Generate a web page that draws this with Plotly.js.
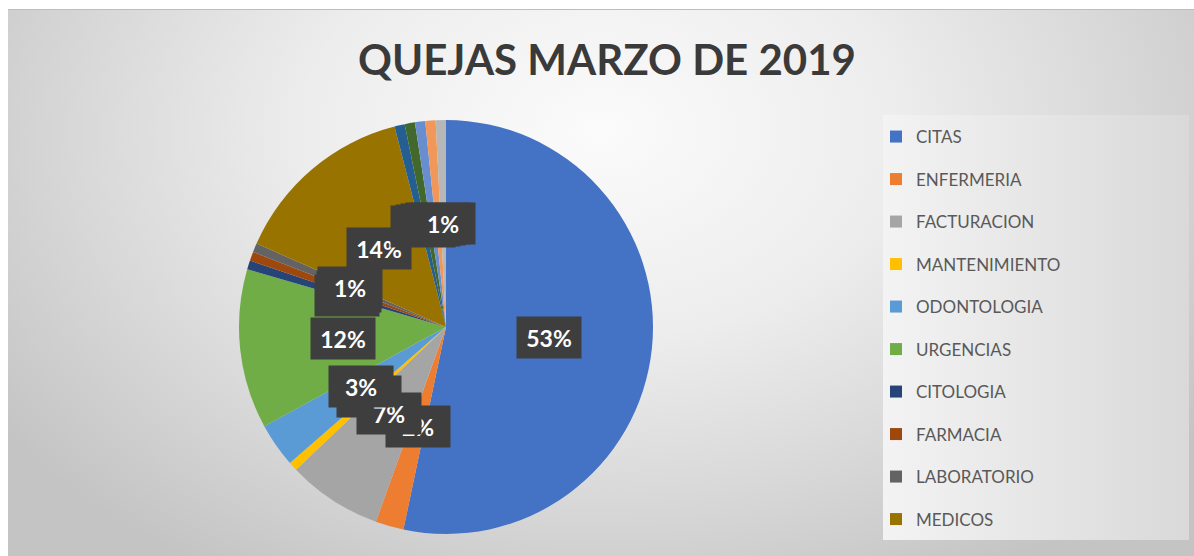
<!DOCTYPE html>
<html>
<head>
<meta charset="utf-8">
<script src="https://cdn.plot.ly/plotly-3.0.1.min.js"></script>
<style>
  html, body { margin: 0; padding: 0; background: #ffffff; }
  #wrap { position: relative; width: 1194px; height: 556px; overflow: hidden; }
  #bg { position: absolute; left: 8px; top: 9px; width: 1186px; height: 547px;
        border-top: 1px solid #bdbdbd;
        background: radial-gradient(ellipse 62% 95% at 50% 22%, #fbfbfb 0%, #ededed 40%, #d9d9d9 70%, #c4c4c4 100%); }
  #legbg { position: absolute; left: 883px; top: 115px; width: 306px; height: 425px;
           background: linear-gradient(90deg, #f3f3f3 0%, #e6e6e6 50%, #d9d9d9 100%); }
  #chart { position: absolute; left: 0; top: 0; width: 1194px; height: 556px; }
</style>
</head>
<body>
<div id="wrap">
  <div id="bg"></div>
  <div id="legbg"></div>
  <div id="chart"></div>
</div>
<script>
// ---- data ----
const categories = ["CITAS", "ENFERMERIA", "FACTURACION", "MANTENIMIENTO", "ODONTOLOGIA",
  "URGENCIAS", "CITOLOGIA", "FARMACIA", "LABORATORIO", "MEDICOS",
  "OTROS 1", "OTROS 2", "OTROS 3", "OTROS 4", "OTROS 5"];
const values = [53.3, 2.2, 7.4, 0.7, 3.45, 12.45, 0.7, 0.7, 0.7, 14.4, 0.8, 0.8, 0.8, 0.8, 0.8];
const colors = ["#4472C4", "#ED7D31", "#A5A5A5", "#FFC000", "#5B9BD5", "#70AD47",
  "#264478", "#9E480E", "#636363", "#997300", "#255E91", "#43682B", "#698ED0", "#F1975A", "#B7B7B7"];
const legendCount = 10; // only the first ten categories appear in the legend
const titleText = "QUEJAS MARZO DE 2019";

// ---- layout geometry ----
const W = 1194, H = 556;
const dom = { x: [239 / W, 653 / W], y: [22 / H, 436 / H] };
const cxPx = (dom.x[0] + dom.x[1]) / 2 * W;
const cyPx = (dom.y[0] + dom.y[1]) / 2 * H;
const rPx = Math.min((dom.x[1] - dom.x[0]) * W, (dom.y[1] - dom.y[0]) * H) / 2;

const total = values.reduce((a, b) => a + b, 0);

const traces = [{
  type: "pie",
  labels: categories,
  values: values,
  sort: false,
  direction: "clockwise",
  rotation: 0,
  domain: dom,
  marker: { colors: colors, line: { width: 0 } },
  textinfo: "none",
  showlegend: false,
  hoverinfo: "label+percent"
}];

for (let i = 0; i < legendCount; i++) {
  traces.push({
    type: "scatter", mode: "markers", x: [null], y: [null],
    name: categories[i], legendgroup: "g" + i,
    marker: { symbol: "square", size: 12, color: colors[i] },
    hoverinfo: "skip"
  });
}

// data labels (percentages) at half radius along each slice's mid angle
const order = [0, 3, 1, 2, 4, 5, 6, 7, 8, 9, 10, 11, 12, 13, 14];
const cum = [];
let acc = 0;
values.forEach(v => { cum.push(acc); acc += v; });
const annotations = order.map(i => {
  const mid = (cum[i] + values[i] / 2) / total * 2 * Math.PI;
  const px = cxPx + 0.5 * rPx * Math.sin(mid);
  const py = cyPx + 0.5 * rPx * Math.cos(mid);
  return {
    xref: "paper", yref: "paper", x: px / W, y: py / H,
    xanchor: "center", yanchor: "middle", showarrow: false,
    text: Math.round(values[i] / total * 100) + "%",
    font: { family: "Lato, 'Open Sans', sans-serif", size: 23, color: "#ffffff", weight: "bold" },
    bgcolor: "#3e3e3e", borderpad: 6, width: 52, height: 29
  };
});

const layout = {
  width: W, height: H,
  margin: { l: 0, r: 0, t: 0, b: 0 },
  paper_bgcolor: "rgba(0,0,0,0)",
  plot_bgcolor: "rgba(0,0,0,0)",
  title: {
    text: "<b>" + titleText + "</b>",
    x: 607 / W, xref: "paper", xanchor: "center",
    y: (H - 60) / H, yref: "paper", yanchor: "middle",
    font: { family: "Lato, 'Open Sans', sans-serif", size: 42, color: "#3a3a3a" }
  },
  xaxis: { visible: false },
  yaxis: { visible: false },
  showlegend: true,
  legend: {
    x: 876 / W, xanchor: "left", y: (H - 119) / H, yanchor: "top",
    bgcolor: "rgba(0,0,0,0)", traceorder: "grouped", tracegroupgap: 17.4,
    font: { family: "Lato, 'Open Sans', sans-serif", size: 17, color: "#595959" }
  },
  annotations: annotations
};

Plotly.newPlot("chart", traces, layout, { displayModeBar: false, staticPlot: true });
</script>
</body>
</html>
